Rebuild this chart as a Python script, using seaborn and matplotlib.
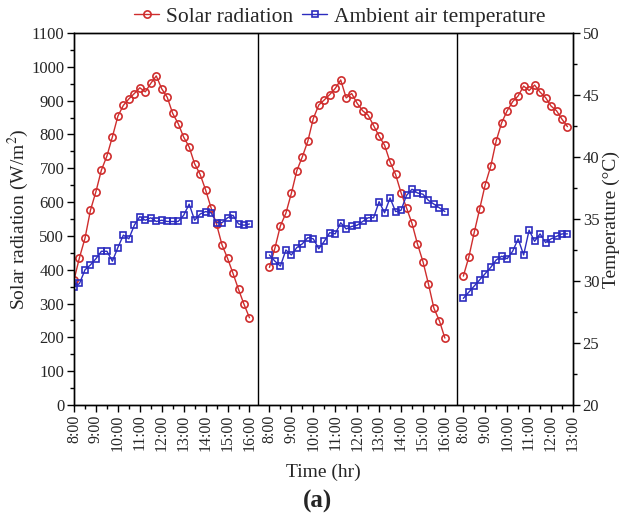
import numpy as np
import pandas as pd
import matplotlib
matplotlib.use("Agg")
import matplotlib.pyplot as plt
from matplotlib.lines import Line2D
from matplotlib.ticker import MultipleLocator, FixedLocator
import seaborn as sns

# Measurements for three test days, sampled every 15 minutes from 8:00
solar_day1 = [370, 436, 493, 576, 631, 695, 736, 793, 854, 886, 905, 921, 938,
              926, 951, 973, 935, 910, 862, 832, 792, 763, 713, 682, 636, 583,
              534, 473, 434, 389, 342, 298, 258]
temp_day1 = [29.5, 29.8, 30.9, 31.3, 31.8, 32.4, 32.4, 31.6, 32.7, 33.7, 33.4,
             34.5, 35.2, 34.9, 35.1, 34.8, 34.9, 34.8, 34.8, 34.8, 35.3, 36.2,
             34.9, 35.4, 35.6, 35.5, 34.7, 34.7, 35.1, 35.3, 34.6, 34.5, 34.6]

solar_day2 = [407, 464, 530, 567, 626, 693, 734, 780, 847, 887, 902, 918, 936,
              961, 908, 921, 892, 870, 857, 826, 795, 768, 719, 682, 628, 583,
              537, 476, 424, 358, 286, 249, 198]
temp_day2 = [32.1, 31.6, 31.2, 32.5, 32.1, 32.7, 33.0, 33.5, 33.4, 32.6, 33.2,
             33.9, 33.8, 34.7, 34.2, 34.4, 34.5, 34.8, 35.1, 35.1, 36.4, 35.5,
             36.7, 35.6, 35.7, 36.9, 37.4, 37.1, 37.0, 36.5, 36.2, 35.9, 35.6]

solar_day3 = [381, 437, 511, 581, 652, 706, 781, 835, 870, 897, 914, 943, 930,
              946, 925, 909, 884, 870, 845, 823]
temp_day3 = [28.6, 29.1, 29.6, 30.1, 30.6, 31.1, 31.7, 32.0, 31.8, 32.4, 33.4,
             32.1, 34.1, 33.2, 33.8, 33.1, 33.4, 33.6, 33.8, 33.8]

# Hour labels shown under each day's block
day_hours = [list(range(8, 17)), list(range(8, 17)), list(range(8, 14))]

# Horizontal placement of each day on the shared time axis (hours)
day_offsets = [0.0, 8.91, 17.75]
dividers = [8.41, 17.44]
x_max = 22.75

red = "#cf2d2d"
blue = "#2c2cbf"

frames = []
for d, (sol, tmp, off) in enumerate(zip([solar_day1, solar_day2, solar_day3],
                                        [temp_day1, temp_day2, temp_day3],
                                        day_offsets)):
    n = len(sol)
    hours = 8 + 0.25 * np.arange(n)
    frames.append(pd.DataFrame({"day": d + 1, "pos": off + hours - 8,
                                "solar": sol, "temp": tmp}))
df = pd.concat(frames, ignore_index=True)

sns.set_style("ticks")
plt.rcParams["font.family"] = ["Liberation Serif", "DejaVu Serif"]
plt.rcParams["mathtext.fontset"] = "stix"

fig = plt.figure(figsize=(6.23, 5.21), dpi=100)
ax = fig.add_axes([0.1188, 0.2226, 0.8009, 0.7141])
ax2 = ax.twinx()

sns.lineplot(data=df, x="pos", y="solar", units="day", estimator=None, ax=ax,
             color=red, lw=1.0, marker="o", markersize=5.2,
             markerfacecolor="none", markeredgecolor=red, markeredgewidth=1.2,
             legend=False)
sns.lineplot(data=df, x="pos", y="temp", units="day", estimator=None, ax=ax2,
             color=blue, lw=1.0, marker="s", markersize=5.0,
             markerfacecolor="none", markeredgecolor=blue, markeredgewidth=1.2,
             legend=False)

for xd in dividers:
    ax.axvline(xd, color="black", lw=1.0, zorder=5)

ax.set_xlim(0, x_max)
ax.set_ylim(0, 1100)
ax2.set_ylim(20, 50)

# Time ticks for each day block
tick_pos, tick_lab, minor_pos = [], [], []
for off, hrs in zip(day_offsets, day_hours):
    for h in hrs:
        tick_pos.append(off + h - 8)
        tick_lab.append(f"{h}:00")
    for h in hrs[:-1]:
        minor_pos.append(off + h - 8 + 0.5)
ax.xaxis.set_major_locator(FixedLocator(tick_pos))
ax.set_xticklabels(tick_lab, rotation=90)
ax.xaxis.set_minor_locator(FixedLocator(minor_pos))

ax.yaxis.set_major_locator(MultipleLocator(100))
ax.yaxis.set_minor_locator(MultipleLocator(50))
ax2.yaxis.set_major_locator(MultipleLocator(5))
ax2.yaxis.set_minor_locator(MultipleLocator(2.5))

for a in (ax, ax2):
    a.tick_params(which="major", direction="out", length=5, width=1.0,
                  labelsize=12, pad=2, color="black")
    a.tick_params(which="minor", direction="out", length=3, width=1.0,
                  color="black")
    for s in a.spines.values():
        s.set_linewidth(1.0)
        s.set_color("black")
ax.tick_params(axis="x", labelsize=11.5, pad=2)
ax.tick_params(axis="y", which="both", right=False)
ax2.tick_params(axis="y", which="both", left=False)

ax.set_xlabel("Time (hr)", fontsize=14, labelpad=9)
ax.set_ylabel("Solar radiation (W/m$^2$)", fontsize=14, labelpad=0)
ax2.set_ylabel("Temperature (°C)", fontsize=14, labelpad=2)

handles = [
    Line2D([], [], color=red, lw=1.0, marker="o", markersize=5.2,
           markerfacecolor="none", markeredgewidth=1.2),
    Line2D([], [], color=blue, lw=1.0, marker="s", markersize=5.0,
           markerfacecolor="none", markeredgewidth=1.2),
]
fig.legend(handles, ["Solar radiation", "Ambient air temperature"],
           loc="center", bbox_to_anchor=(0.545, 0.968), ncol=2, frameon=False,
           fontsize=15.5, handlelength=1.2, handletextpad=0.3,
           columnspacing=0.4)

fig.text(0.51, 0.038, "(a)", ha="center", va="center", fontsize=18,
         fontweight="bold")

fig.savefig("out.png", dpi=100)
